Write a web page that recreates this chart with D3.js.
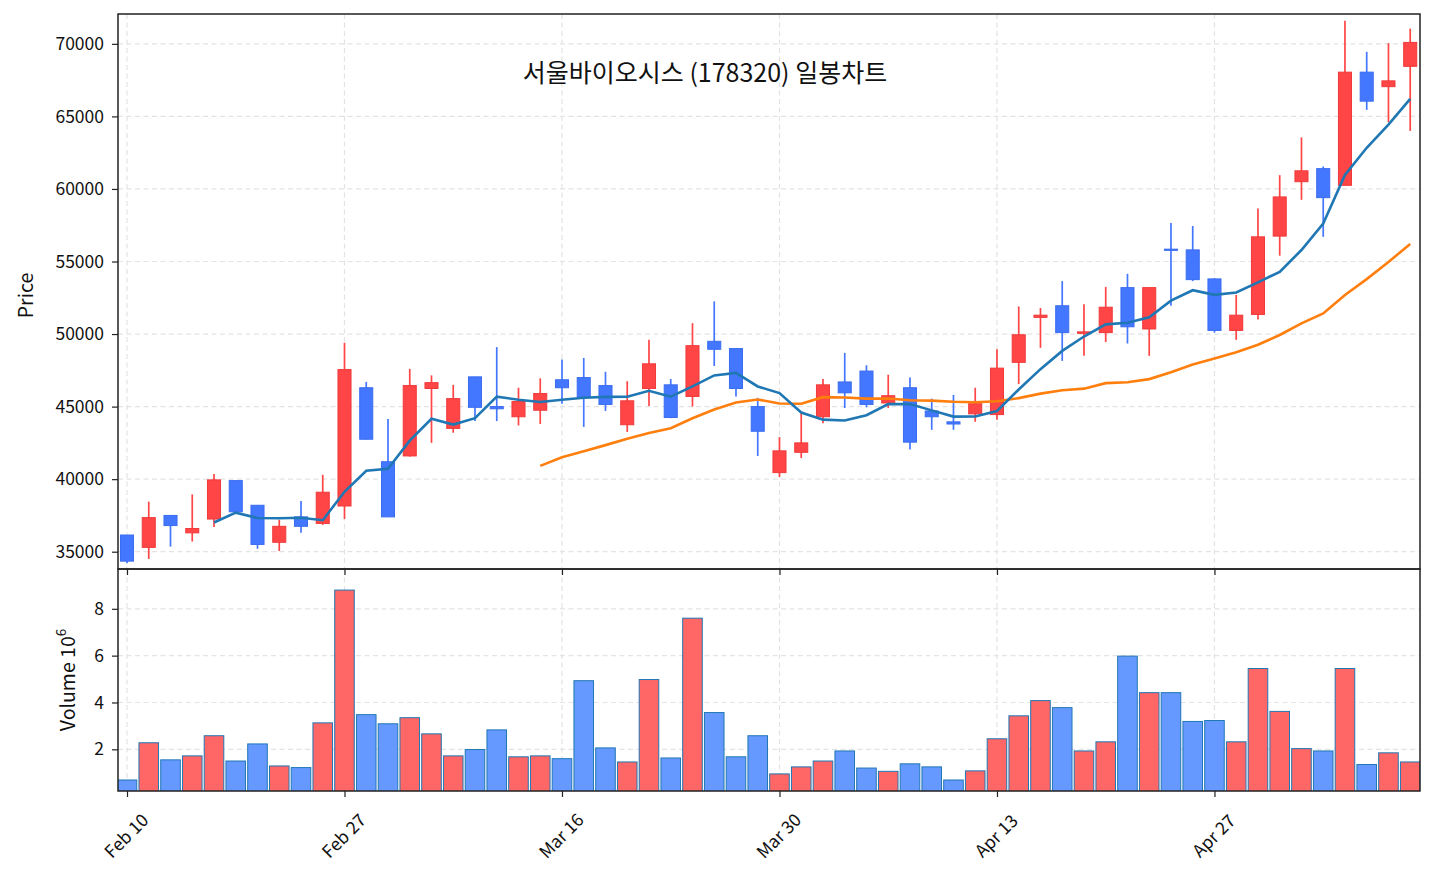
<!DOCTYPE html>
<html>
<head>
<meta charset="utf-8">
<script src="https://cdn.jsdelivr.net/npm/d3@7/dist/d3.min.js"></script>
<style>
  html, body { margin: 0; padding: 0; background: #fff; }
  svg { display: block; font-family: "Noto Sans CJK KR", "Noto Sans", sans-serif; }
</style>
</head>
<body>
<svg id="chart" width="1434" height="882"></svg>
<script>
// ---------- data ----------
const title = "서울바이오시스 (178320) 일봉차트";
const tickIndex = [0, 10, 20, 30, 40, 50];
const tickLabels = ["Feb 10", "Feb 27", "Mar 16", "Mar 30", "Apr 13", "Apr 27"];

const openP  = [36150,35300,37500,36300,37250,39900,38200,35650,37400,36950,
                38150,46300,41200,41600,46250,43500,47050,45000,44300,44750,
                46850,47000,46450,43750,46250,46500,45700,49500,49000,45000,
                40450,41850,44300,46700,47450,45250,46300,44700,43950,44500,
                44450,48050,51150,51950,50050,50100,53200,50350,55850,55800,
                53800,50250,51350,56750,60500,61400,60250,68050,67050,68450];
const highP  = [36150,38450,37500,38950,40350,39900,38200,37200,38500,40300,
                49400,46700,44150,47600,47150,46500,47050,49100,46300,46950,
                48250,48350,47400,46750,49600,46900,50750,52250,49000,45600,
                42900,44650,46900,48700,47850,47200,47000,45550,45800,46300,
                48950,51900,51800,53650,52050,53250,54150,53200,57650,57450,
                53850,52700,58650,60950,63550,61550,71600,69450,70050,71050];
const lowP   = [34200,34500,35350,35700,36700,37700,35200,35050,36300,36850,
                37250,42750,37400,41550,42500,43200,44000,44000,43700,43800,
                45200,43600,44700,43250,45050,44200,45000,47800,45700,41600,
                40150,41450,43850,44900,44950,44900,42050,43400,43400,43950,
                44100,46550,49050,48150,48500,49450,49350,48500,51950,53650,
                50100,49600,51000,55400,59250,56700,60250,65450,64600,64000];
const closeP = [34350,37350,36800,36600,39950,37750,35500,36750,36750,39100,
                47550,42750,37400,46450,46650,45550,44950,44850,45350,45900,
                46300,45650,45150,45400,47950,44250,49200,48950,46250,43300,
                41950,42500,46500,45950,45150,45750,42550,44300,43800,45200,
                47650,49950,51300,50100,50150,51850,50500,53200,55800,53750,
                50250,51300,56700,59450,61250,59400,68050,66050,67450,70100];
const volumeM = [0.69,2.28,1.55,1.72,2.58,1.50,2.23,1.29,1.22,3.13,
                 8.80,3.48,3.09,3.35,2.66,1.72,1.99,2.83,1.68,1.72,
                 1.60,4.93,2.06,1.46,4.98,1.63,7.60,3.57,1.68,2.58,
                 0.95,1.25,1.50,1.93,1.20,1.06,1.38,1.25,0.69,1.08,
                 2.45,3.43,4.08,3.78,1.93,2.32,5.98,4.42,4.42,3.19,
                 3.23,2.32,5.45,3.62,2.03,1.93,5.45,1.35,1.85,1.46];
const priceTicks = [35000, 40000, 45000, 50000, 55000, 60000, 65000, 70000];
const volumeTicks = [2, 4, 6, 8];

// moving averages derived from closes
function movingAverage(arr, n) {
  return arr.map((_, i) => i < n - 1 ? null : d3.mean(arr.slice(i - n + 1, i + 1)));
}
const ma5 = movingAverage(closeP, 5);
const ma20 = movingAverage(closeP, 20);

const candles = openP.map((o, i) => ({
  i, open: o, high: highP[i], low: lowP[i], close: closeP[i], vol: volumeM[i],
  up: closeP[i] >= o
}));

// ---------- layout ----------
const L = 118, R = 1420, PT = 14, PB = 569, VT = 569, VB = 791;
const svg = d3.select("#chart");

const x = d3.scaleLinear().domain([-0.414, 59.45]).range([L, R]);
const step = x(1) - x(0);
const yP = d3.scaleLinear().domain([33808, 72057]).range([PB, PT]);
const yV = d3.scaleLinear().domain([0.22, 9.70]).range([VB, VT]);

const RED = "#ff4545", RED_E = "#f03a3a";
const BLUE = "#4477ff", BLUE_E = "#3a6cf0";
const GRID = "#e3e3e3";

svg.append("rect").attr("width", 1434).attr("height", 882).attr("fill", "#fff");

const defs = svg.append("defs");
defs.append("clipPath").attr("id", "clipP").append("rect")
  .attr("x", L).attr("y", PT).attr("width", R - L).attr("height", PB - PT);
defs.append("clipPath").attr("id", "clipV").append("rect")
  .attr("x", L).attr("y", VT).attr("width", R - L).attr("height", VB - VT);

// ---------- grids ----------
const gGrid = svg.append("g").attr("stroke", GRID).attr("stroke-width", 1.2)
  .attr("stroke-dasharray", "5,3.5");
priceTicks.forEach(t => gGrid.append("line")
  .attr("x1", L).attr("x2", R).attr("y1", yP(t)).attr("y2", yP(t)));
volumeTicks.forEach(t => gGrid.append("line")
  .attr("x1", L).attr("x2", R).attr("y1", yV(t)).attr("y2", yV(t)));
tickIndex.forEach(t => {
  gGrid.append("line").attr("x1", x(t)).attr("x2", x(t)).attr("y1", PT).attr("y2", PB);
  gGrid.append("line").attr("x1", x(t)).attr("x2", x(t)).attr("y1", VT).attr("y2", VB);
});

// ---------- candles ----------
const gC = svg.append("g").attr("clip-path", "url(#clipP)");
const bodyW = 0.6 * step;
gC.selectAll("line.wick").data(candles).join("line")
  .attr("class", "wick")
  .attr("x1", d => x(d.i)).attr("x2", d => x(d.i))
  .attr("y1", d => yP(d.high)).attr("y2", d => yP(d.low))
  .attr("stroke", d => d.up ? RED : BLUE).attr("stroke-width", 1.7);
gC.selectAll("rect.body").data(candles).join("rect")
  .attr("class", "body")
  .attr("x", d => x(d.i) - bodyW / 2)
  .attr("width", bodyW)
  .attr("y", d => yP(Math.max(d.open, d.close)))
  .attr("height", d => Math.max(1.2, Math.abs(yP(d.open) - yP(d.close))))
  .attr("fill", d => d.up ? RED : BLUE)
  .attr("stroke", d => d.up ? RED_E : BLUE_E).attr("stroke-width", 1);

// ---------- moving averages ----------
const line = d3.line().defined(d => d.v != null).x(d => x(d.i)).y(d => yP(d.v));
gC.append("path").datum(ma20.map((v, i) => ({ i, v })))
  .attr("d", line).attr("fill", "none").attr("stroke", "#ff7f0e").attr("stroke-width", 2.6);
gC.append("path").datum(ma5.map((v, i) => ({ i, v })))
  .attr("d", line).attr("fill", "none").attr("stroke", "#1f77b4").attr("stroke-width", 2.6);

// ---------- volume ----------
const gV = svg.append("g").attr("clip-path", "url(#clipV)");
const barW = 0.9 * step;
gV.selectAll("rect").data(candles).join("rect")
  .attr("x", d => x(d.i) - barW / 2)
  .attr("width", barW)
  .attr("y", d => yV(d.vol))
  .attr("height", d => yV(0) - yV(d.vol))
  .attr("fill", d => d.up ? "#ff6666" : "#6699ff")
  .attr("stroke", "#1f77b4").attr("stroke-width", 1);

// ---------- axes ----------
const fontSize = 17.5;
const gPA = svg.append("g").attr("transform", `translate(${L},0)`)
  .call(d3.axisLeft(yP).tickValues(priceTicks).tickFormat(d3.format("d")).tickSize(6).tickPadding(8));
const gVA = svg.append("g").attr("transform", `translate(${L},0)`)
  .call(d3.axisLeft(yV).tickValues(volumeTicks).tickFormat(d3.format("d")).tickSize(6).tickPadding(8));
const gXP = svg.append("g").attr("transform", `translate(0,${PB})`)
  .call(d3.axisBottom(x).tickValues(tickIndex).tickFormat("").tickSize(6));
const gXV = svg.append("g").attr("transform", `translate(0,${VB})`)
  .call(d3.axisBottom(x).tickValues(tickIndex).tickFormat((d, k) => tickLabels[k]).tickSize(6));
[gPA, gVA, gXP, gXV].forEach(g => {
  g.select(".domain").remove();
  g.selectAll(".tick line").attr("stroke", "#222").attr("stroke-width", 1.2);
  g.selectAll(".tick text").attr("font-size", fontSize).attr("fill", "#111")
    .attr("font-family", "'Noto Sans CJK KR', 'Noto Sans', sans-serif");
});
gXV.selectAll(".tick text")
  .attr("text-anchor", "middle")
  .attr("y", 0)
  .attr("dy", "0.35em")
  .attr("transform", "translate(-1,45) rotate(-45)");

// frames
svg.append("rect").attr("x", L).attr("y", PT).attr("width", R - L).attr("height", PB - PT)
  .attr("fill", "none").attr("stroke", "#222").attr("stroke-width", 1.5);
svg.append("rect").attr("x", L).attr("y", VT).attr("width", R - L).attr("height", VB - VT)
  .attr("fill", "none").attr("stroke", "#222").attr("stroke-width", 1.5);

// labels
svg.append("text").attr("x", 705).attr("y", 82)
  .attr("text-anchor", "middle").attr("font-size", 25).attr("fill", "#111")
  .text(title);
svg.append("text").attr("transform", `translate(33,${(PT + PB) / 2 + 4}) rotate(-90)`)
  .attr("text-anchor", "middle").attr("font-size", 19.5).attr("fill", "#111").text("Price");
const vl = svg.append("text").attr("transform", `translate(75,${(VT + VB) / 2}) rotate(-90)`)
  .attr("text-anchor", "middle").attr("font-size", 19.5).attr("fill", "#111");
vl.append("tspan").text("Volume 10");
vl.append("tspan").attr("font-size", 13.5).attr("dy", -9).text("6");
</script>
</body>
</html>
